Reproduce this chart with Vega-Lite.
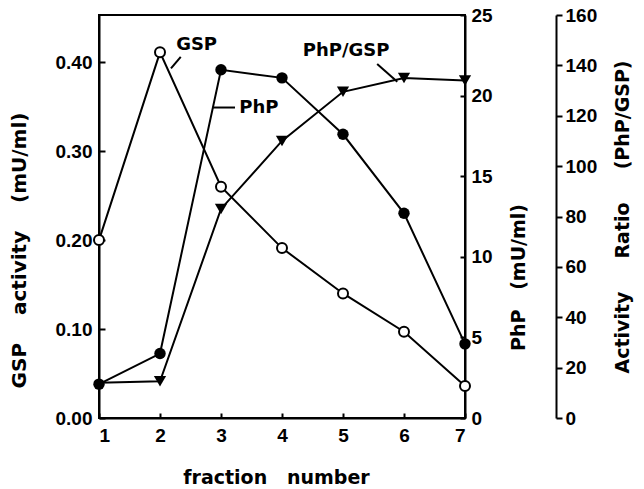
{
  "$schema": "https://vega.github.io/schema/vega-lite/v6.json",
  "width": 366,
  "height": 403,
  "autosize": {"type": "none"},
  "padding": {"left": 99, "top": 15, "right": 179, "bottom": 71},
  "background": "white",
  "config": {
    "font": "Liberation Sans",
    "view": {"stroke": "black", "strokeWidth": 2},
    "axis": {
      "domainColor": "black", "domainWidth": 2,
      "tickColor": "black", "tickWidth": 2,
      "grid": false,
      "labelFont": "Liberation Sans", "labelFontWeight": "bold", "labelFontSize": 19, "labelColor": "black",
      "titleFont": "DejaVu Sans", "titleFontWeight": "bold", "titleFontSize": 19, "titleColor": "black"
    }
  },
  "datasets": {
    "series": [
      {"fraction": 1, "gsp": 0.200, "php": 2.1, "ratio": 14},
      {"fraction": 2, "gsp": 0.411, "php": 4.0, "ratio": 14.6},
      {"fraction": 3, "gsp": 0.260, "php": 21.6, "ratio": 83},
      {"fraction": 4, "gsp": 0.191, "php": 21.1, "ratio": 110},
      {"fraction": 5, "gsp": 0.140, "php": 17.6, "ratio": 129.5},
      {"fraction": 6, "gsp": 0.097, "php": 12.7, "ratio": 135},
      {"fraction": 7, "gsp": 0.036, "php": 4.6, "ratio": 134}
    ],
    "labels": [
      {"label": "GSP", "x": 2.60, "y": 0.419},
      {"label": "PhP", "x": 3.62, "y": 0.348},
      {"label": "PhP/GSP", "x": 5.05, "y": 0.413}
    ],
    "leaders": [
      {"x": 2.18, "y": 0.393, "x2": 2.34, "y2": 0.406},
      {"x": 2.87, "y": 0.349, "x2": 3.23, "y2": 0.349},
      {"x": 5.56, "y": 0.398, "x2": 5.89, "y2": 0.378}
    ]
  },
  "encoding": {
    "x": {
      "field": "fraction", "type": "quantitative",
      "scale": {"domain": [1, 7], "nice": false, "zero": false},
      "axis": {
        "values": [1, 2, 3, 4, 5, 6, 7], "format": "d",
        "tickSize": -5, "labelPadding": 13,
        "title": "fraction\u00a0\u00a0\u00a0number", "titlePadding": 23, "titleX": 177
      }
    }
  },
  "layer": [
    {
      "layer": [
        {
          "data": {"name": "series"},
          "mark": {"type": "line", "color": "black", "strokeWidth": 2},
          "encoding": {
            "y": {
              "field": "gsp", "type": "quantitative",
              "scale": {"domain": [0, 0.453], "nice": false, "zero": false},
              "axis": {
                "orient": "left", "values": [0, 0.1, 0.2, 0.3, 0.4], "format": ".2f",
                "tickSize": -6, "labelPadding": 13,
                "title": "GSP\u00a0\u00a0\u00a0\u00a0activity\u00a0\u00a0\u00a0\u00a0(mU/ml)", "titleFontSize": 20, "titlePadding": 26, "titleY": 235
              }
            }
          }
        },
        {
          "data": {"name": "leaders"},
          "mark": {"type": "rule", "color": "black", "strokeWidth": 2},
          "encoding": {
            "x": {"field": "x", "type": "quantitative"},
            "x2": {"field": "x2"},
            "y": {"field": "y", "type": "quantitative"},
            "y2": {"field": "y2"}
          }
        },
        {
          "data": {"name": "labels"},
          "mark": {"type": "text", "font": "DejaVu Sans", "fontWeight": "bold", "fontSize": 18, "color": "black", "align": "center", "baseline": "middle"},
          "encoding": {
            "x": {"field": "x", "type": "quantitative"},
            "y": {"field": "y", "type": "quantitative"},
            "text": {"field": "label"}
          }
        }
      ]
    },
    {
      "layer": [
        {
          "data": {"name": "series"},
          "mark": {"type": "line", "color": "black", "strokeWidth": 2},
          "encoding": {
            "y": {
              "field": "php", "type": "quantitative",
              "scale": {"domain": [0, 25], "nice": false, "zero": false},
              "axis": {
                "orient": "right", "values": [0, 5, 10, 15, 20, 25], "format": "d",
                "tickSize": -5, "labelPadding": 11,
                "title": "PhP\u00a0\u00a0\u00a0(mU/ml)", "titleAngle": 270, "titlePadding": 36, "titleY": 262
              }
            }
          }
        },
        {
          "data": {"name": "series"},
          "mark": {"type": "point", "shape": "circle", "filled": true, "color": "black", "size": 130, "opacity": 1},
          "encoding": {
            "y": {"field": "php", "type": "quantitative"}
          }
        }
      ]
    },
    {
      "layer": [
        {
          "data": {"name": "series"},
          "mark": {"type": "line", "color": "black", "strokeWidth": 2},
          "encoding": {
            "y": {
              "field": "ratio", "type": "quantitative",
              "scale": {"domain": [0, 160], "nice": false, "zero": false},
              "axis": {
                "orient": "right", "offset": 91, "values": [0, 20, 40, 60, 80, 100, 120, 140, 160], "format": "d",
                "tickSize": 6, "labelPadding": 3,
                "title": "Activity\u00a0\u00a0\u00a0\u00a0\u00a0Ratio\u00a0\u00a0\u00a0\u00a0\u00a0(PhP/GSP)", "titleAngle": 270, "titlePadding": 36
              }
            }
          }
        },
        {
          "data": {"name": "series"},
          "transform": [{"filter": "datum.fraction > 1"}],
          "mark": {"type": "point", "shape": "triangle-down", "filled": true, "color": "black", "size": 150, "opacity": 1},
          "encoding": {
            "y": {"field": "ratio", "type": "quantitative"}
          }
        }
      ]
    },
    {
      "data": {"name": "series"},
      "mark": {"type": "point", "shape": "circle", "filled": true, "fill": "white", "stroke": "black", "strokeWidth": 2, "size": 100, "opacity": 1},
      "encoding": {
        "y": {
          "field": "gsp", "type": "quantitative",
          "scale": {"domain": [0, 0.453], "nice": false, "zero": false},
          "axis": null
        }
      }
    }
  ],
  "resolve": {"scale": {"y": "independent"}}
}
